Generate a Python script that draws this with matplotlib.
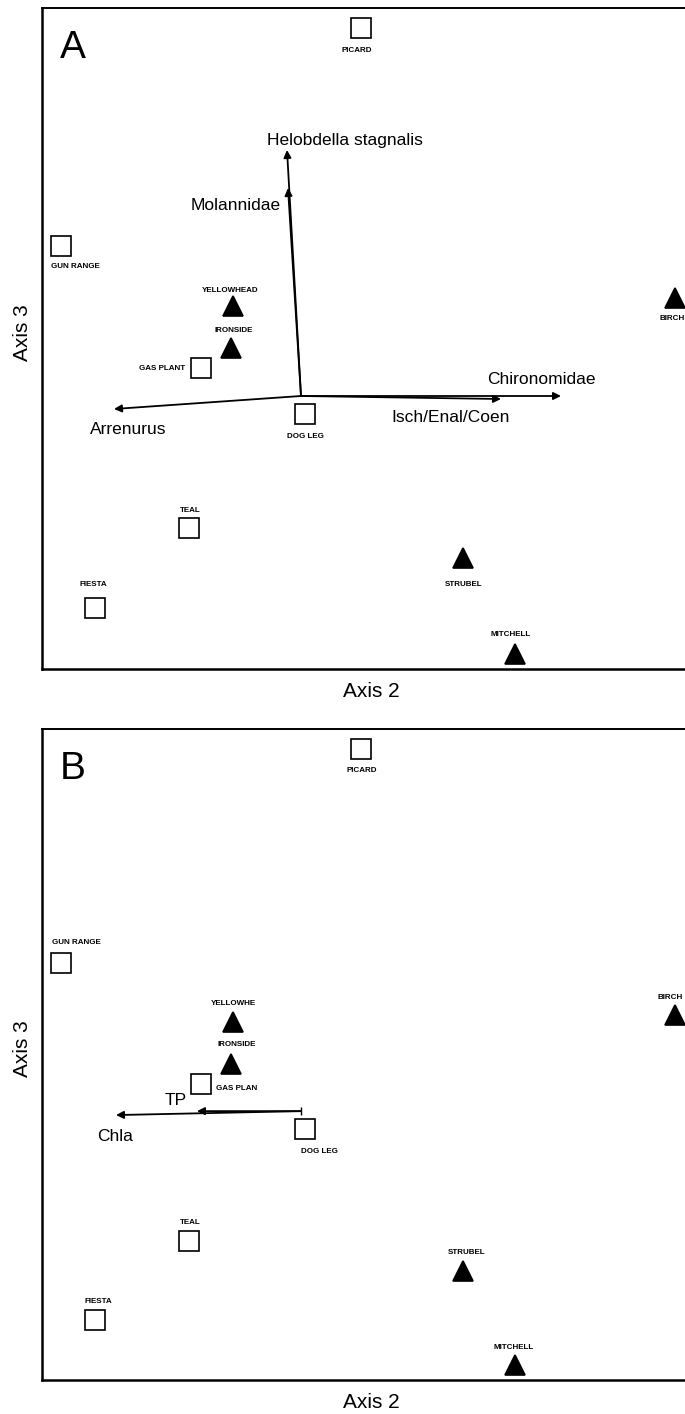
import numpy as np
import matplotlib.pyplot as plt

plt.rcParams['font.family'] = ['Liberation Sans', 'DejaVu Sans']

# site scores on ordination axes 2 and 3
sites = ['PICARD', 'GUN RANGE', 'YELLOWHEAD', 'IRONSIDE', 'GAS PLANT', 'DOG LEG',
         'BIRCH', 'TEAL', 'FIESTA', 'STRUBEL', 'MITCHELL']
axis2 = [0.30, -1.20, -0.34, -0.35, -0.50, 0.02, 1.87, -0.56, -1.03, 0.81, 1.07]
axis3 = [1.84, 0.75, 0.45, 0.24, 0.14, -0.09, 0.49, -0.66, -1.06, -0.81, -1.29]
groep = ['s', 's', '^', '^', 's', 's', '^', 's', 's', '^', '^']

# labels as printed in panel B (some are cut short)
sites_b = ['PICARD', 'GUN RANGE', 'YELLOWHE', 'IRONSIDE', 'GAS PLAN', 'DOG LEG',
           'BIRCH', 'TEAL', 'FIESTA', 'STRUBEL', 'MITCHELL']

# biplot vectors, panel A (taxa) and panel B (environment)
taxa = ['Helobdella stagnalis', 'Molannidae', 'Chironomidae', 'Isch/Enal/Coen', 'Arrenurus']
taxa_x = [-0.07, -0.065, 1.30, 1.00, -0.935]
taxa_y = [1.23, 1.04, 0.00, -0.015, -0.065]

omgeving = ['TP', 'Chla']
omg_x = [-0.52, -0.925]
omg_y = [0.0, -0.02]

# label offsets in pixels (dx, dy), y upwards
site_off_a = [(-4, -22), (14, -21), (-3, 16), (3, 18), (-16, 0), (0, -22),
              (-3, -20), (1, 18), (-2, 23), (1, -26), (-4, 20)]
site_ha_a = ['center'] * 4 + ['right'] + ['center'] * 6
site_off_b = [(1, -22), (15, 21), (0, 19), (6, 19), (15, -5), (14, -23),
              (-5, 17), (1, 19), (3, 18), (4, 18), (-1, 18)]
site_ha_b = ['center'] * 4 + ['left'] + ['center'] * 6

taxa_off = [(-20, 5), (-7, -22), (-74, 12), (-110, -23), (-24, -25)]
taxa_ha = ['left', 'right', 'left', 'left', 'left']
omg_off = [(-32, 6), (-19, -26)]

W, H = 685, 1414
fig = plt.figure(figsize=(W / 100, H / 100), dpi=100)


def paneel(top, bottom, letter, namen, offsets, has, vnamen, vx, vy, voff, vha, tick=False):
    ax = fig.add_axes([42 / W, (H - bottom) / H, 653 / W, (bottom - top) / H])
    ax.set_xlim(-1.295, 1.97)
    ax.set_ylim(-1.365, 1.94)
    ax.set_xticks([])
    ax.set_yticks([])
    for s in ax.spines.values():
        s.set_linewidth(1.4)
    ax.spines['left'].set_linewidth(1.8)
    ax.spines['bottom'].set_linewidth(1.8)

    # vectors from the centroid
    for naam, x, y, off, ha in zip(vnamen, vx, vy, voff, vha):
        ax.annotate('', xy=(x, y), xytext=(0, 0),
                    arrowprops=dict(arrowstyle='-|>', lw=1.3, color='black',
                                    mutation_scale=11, shrinkA=0, shrinkB=0))
        ax.annotate(naam, xy=(x, y), xytext=off, textcoords='offset pixels',
                    ha=ha, va='baseline', fontsize=12.5)
    if tick:
        ax.plot(0, 0, marker='|', color='black', markersize=6, mew=1)

    for i in range(len(namen)):
        ax.plot(axis2[i], axis3[i], marker=groep[i], markersize=15, linestyle='none',
                mfc='white' if groep[i] == 's' else 'black', mec='black', mew=1.2,
                clip_on=False)
        ax.annotate(namen[i], xy=(axis2[i], axis3[i]), xytext=offsets[i],
                    textcoords='offset pixels', ha=has[i], va='center',
                    fontsize=5.8, fontweight='bold', annotation_clip=False)

    ax.text(18 / 653, 1 - 50 / (bottom - top), letter, transform=ax.transAxes,
            fontsize=28, ha='left', va='baseline')
    fig.text(371 / W, 1 - (bottom + 28) / H, 'Axis 2', fontsize=15,
             ha='center', va='baseline')
    fig.text(22 / W, 1 - (top + bottom - 12) / 2 / H, 'Axis 3', fontsize=15,
             rotation=90, ha='center', va='center')
    return ax


paneel(8, 669, 'A', sites, site_off_a, site_ha_a, taxa, taxa_x, taxa_y, taxa_off, taxa_ha)
paneel(729, 1380, 'B', sites_b, site_off_b, site_ha_b, omgeving, omg_x, omg_y, omg_off,
       ['left', 'left'], tick=True)

fig.savefig('out.png', dpi=100, facecolor='white')
